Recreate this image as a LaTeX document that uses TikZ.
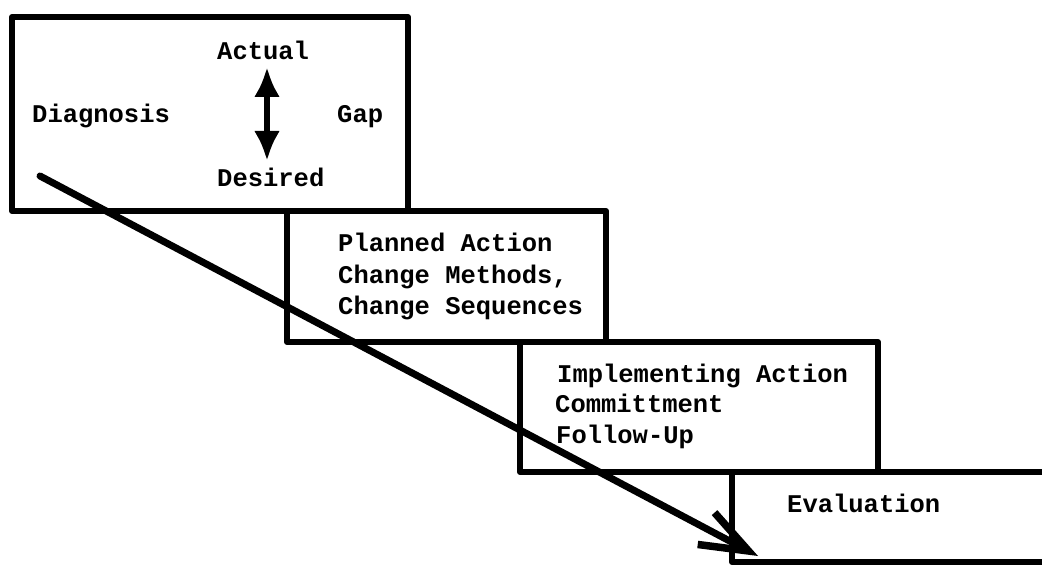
\documentclass[tikz,border=0pt]{standalone}
\usepackage{fontspec}
\setmonofont{Liberation Mono}
\usetikzlibrary{arrows.meta}
\tikzset{
  boxframe/.style={draw=black, line width=6pt, line join=round, inner sep=0pt, outer sep=0pt, anchor=north west},
  lbl/.style={font=\ttfamily\bfseries\fontsize{25.5}{30}\selectfont, inner sep=0pt, anchor=base west},
  bigarrow/.style={line width=7pt, line cap=round, -{Straight Barb[length=48pt,width=36pt,line width=7.5pt]}},
  gaparrow/.style={line width=6.5pt, {Latex[length=30pt,width=26pt]}-{Latex[length=30pt,width=26pt]}}
}
\begin{document}
\begin{tikzpicture}[x=1pt,y=-1pt]
\useasboundingbox (0,0) rectangle (1042,569);
% boxes
\node[boxframe, minimum width=396pt, minimum height=194pt] (b1) at (12,17) {};
\node[boxframe, minimum width=319pt, minimum height=131pt] (b2) at (287,211) {};
\node[boxframe, minimum width=358pt, minimum height=130pt] (b3) at (520,342) {};
\node[inner sep=0pt, outer sep=0pt, anchor=north west, minimum width=310pt, minimum height=90pt] (b4) at (732,472) {};
\draw[line width=6pt, line join=round] (b4.north east) -- (b4.north west) -- (b4.south west) -- (b4.south east);
% box 1 texts
\node[lbl] (act) at (217,60) {Actual};
\node[lbl] (diag) at (32,123) {Diagnosis};
\node[lbl] (gap) at (337,123) {Gap};
\node[lbl] (des) at (217,187) {Desired};
\coordinate (gtop) at (267,67);
\coordinate (gbot) at (267,161);
\draw[gaparrow] (gtop) -- (gbot);
% box 2 texts
\node[lbl] (p1) at (338,252) {Planned Action};
\node[lbl] (p2) at (338,284) {Change Methods,};
\node[lbl] (p3) at (338,315) {Change Sequences};
% box 3 texts
\node[lbl] (i1) at (557,382) {Implementing Action};
\node[lbl] (i2) at (555,413) {Committment};
\node[lbl] (i3) at (556,443) {Follow-Up};
% box 4 text
\node[lbl] (ev) at (787,512) {Evaluation};
% main arrow
\coordinate (s) at (40,176);
\coordinate (e) at (758,556);
\draw[bigarrow] (s) -- (e);
\end{tikzpicture}
\end{document}
